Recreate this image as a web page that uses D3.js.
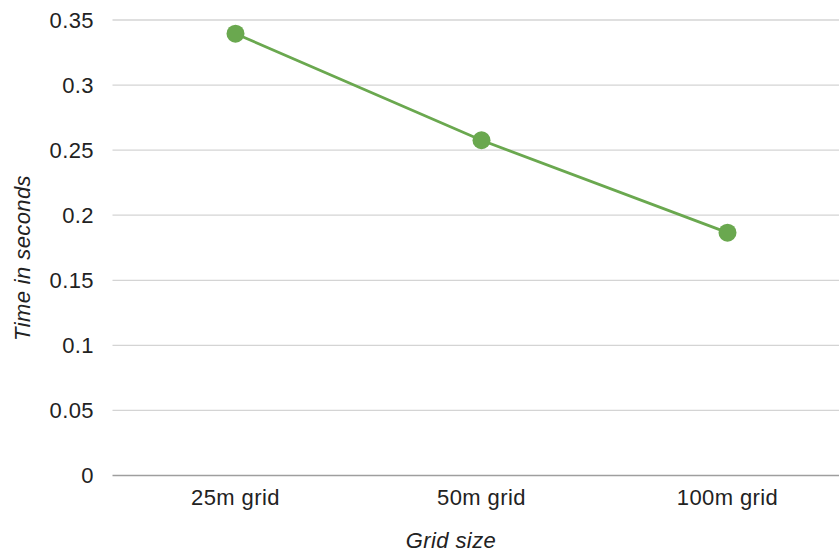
<!DOCTYPE html>
<html>
<head>
<meta charset="utf-8">
<script src="https://cdn.jsdelivr.net/npm/d3@7"></script>
<style>
  html, body { margin: 0; padding: 0; background: #fff; }
  svg { display: block; font-family: "Liberation Sans", Arial, sans-serif; }
  text { letter-spacing: 0.4px; }
</style>
</head>
<body>
<svg id="chart" width="839" height="552"></svg>
<script>
// Run time per grid resolution
const categories = ["25m grid", "50m grid", "100m grid"];
const times = [0.3395, 0.2576, 0.1866];
const yTicks = [0, 0.05, 0.1, 0.15, 0.2, 0.25, 0.3, 0.35];
const yTickLabels = ["0", "0.05", "0.1", "0.15", "0.2", "0.25", "0.3", "0.35"];

const svg = d3.select("#chart");
const W = 839;
const plotLeft = 112.5, plotRight = 850.5, plotTop = 20, plotBottom = 475.5;
const fontSize = 22;

const x = d3.scaleBand().domain(categories).range([plotLeft, plotRight]);
const y = d3.scaleLinear().domain([0, 0.35]).range([plotBottom, plotTop]);
const cx = d => x(d) + x.bandwidth() / 2;

// Horizontal gridlines
svg.append("g").selectAll("line")
  .data(yTicks)
  .join("line")
  .attr("x1", plotLeft).attr("x2", W)
  .attr("y1", d => y(d)).attr("y2", d => y(d))
  .attr("stroke", d => d === 0 ? "#9e9e9e" : "#d4d4d4")
  .attr("stroke-width", 1.3);

// Y axis tick labels
svg.append("g").selectAll("text")
  .data(yTicks)
  .join("text")
  .attr("x", 94)
  .attr("y", d => y(d))
  .attr("dy", "0.35em")
  .attr("text-anchor", "end")
  .attr("font-size", fontSize)
  .attr("fill", "#222")
  .text((d, i) => yTickLabels[i]);

// X axis category labels
svg.append("g").selectAll("text")
  .data(categories)
  .join("text")
  .attr("x", d => cx(d))
  .attr("y", 497)
  .attr("dy", "0.35em")
  .attr("text-anchor", "middle")
  .attr("font-size", fontSize)
  .attr("fill", "#222")
  .text(d => d);

// Axis titles
svg.append("text")
  .attr("x", 451).attr("y", 548)
  .attr("text-anchor", "middle")
  .attr("font-size", fontSize)
  .attr("font-style", "italic")
  .attr("fill", "#222")
  .text("Grid size");

svg.append("text")
  .attr("transform", "translate(22,258) rotate(-90)")
  .attr("dy", "0.35em")
  .attr("text-anchor", "middle")
  .attr("font-size", fontSize)
  .attr("font-style", "italic")
  .attr("fill", "#222")
  .text("Time in seconds");

// Series line
const data = categories.map((c, i) => ({ c, v: times[i] }));
svg.append("path")
  .datum(data)
  .attr("fill", "none")
  .attr("stroke", "#6aa84f")
  .attr("stroke-width", 2.8)
  .attr("d", d3.line().x(d => cx(d.c)).y(d => y(d.v)));

// Series points
svg.append("g").selectAll("circle")
  .data(data)
  .join("circle")
  .attr("cx", d => cx(d.c))
  .attr("cy", d => y(d.v))
  .attr("r", 9)
  .attr("fill", "#6aa84f");
</script>
</body>
</html>
